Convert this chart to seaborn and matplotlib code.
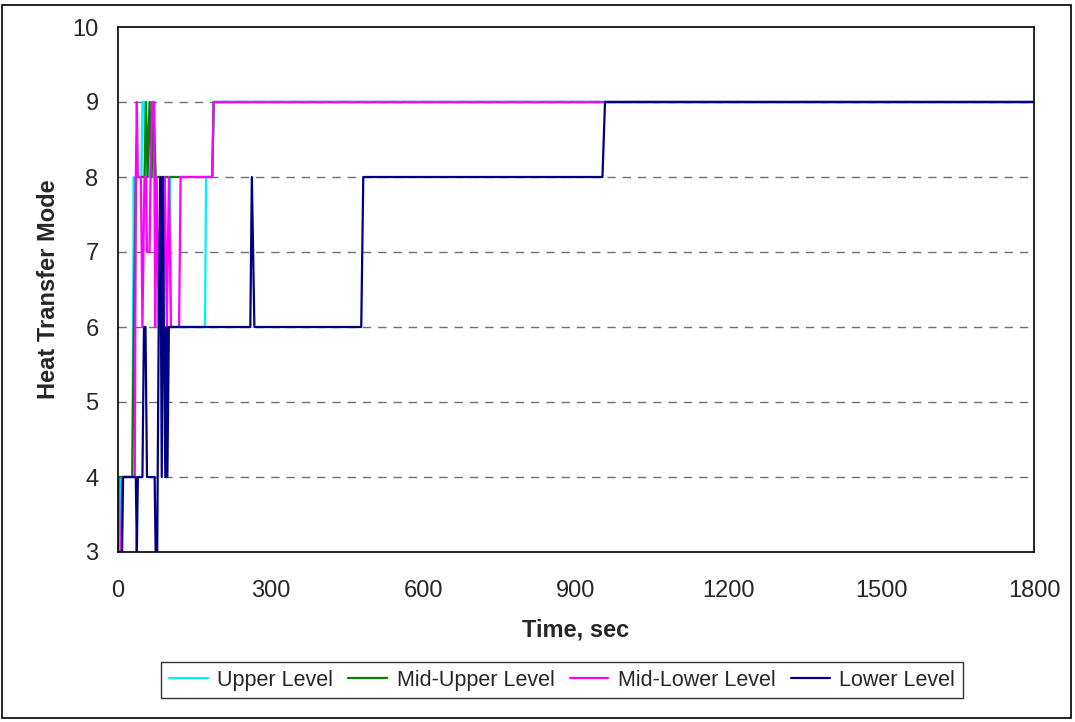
import matplotlib
matplotlib.use("Agg")
import matplotlib.pyplot as plt
import matplotlib.patches as mpatches
import numpy as np
import pandas as pd
import seaborn as sns

# Heat transfer mode history for each level of the bundle
upper_t = [0, 3, 5, 28, 31, 33, 36, 46, 48, 52, 54, 62, 64, 68, 70, 84, 86, 90, 92, 102, 104, 171, 173, 186, 188, 1800]
upper_v = [3, 3, 4, 4, 8, 6, 8, 8, 9, 9, 8, 8, 9, 9, 8, 8, 6, 6, 8, 8, 6, 6, 8, 8, 9, 9]

midupper_t = [0, 1, 28, 31, 35, 52, 55, 58, 62, 66, 70, 74, 80, 185, 188, 1800]
midupper_v = [3, 4, 4, 6, 8, 8, 9, 8, 9, 8, 9, 8, 8, 8, 9, 9]

midlower_t = [0, 6, 8, 33, 35, 37, 39, 45, 48, 52, 55, 57, 62, 64, 67, 71, 73, 76, 80, 84, 88, 92, 96, 100, 104, 120, 123, 185, 188, 1800]
midlower_v = [3, 3, 4, 4, 8, 9, 8, 8, 6, 8, 8, 7, 7, 8, 9, 9, 6, 8, 6, 8, 6, 8, 6, 8, 6, 6, 8, 8, 9, 9]

lower_t = [0, 8, 10, 35, 37, 39, 48, 51, 54, 57, 72, 74, 77, 80, 83, 86, 88, 90, 93, 95, 97, 100, 260, 263, 268, 478, 482, 952, 957, 1800]
lower_v = [3, 3, 4, 4, 3, 4, 4, 6, 6, 4, 4, 3, 3, 6, 8, 4, 8, 6, 4, 6, 4, 6, 6, 8, 6, 6, 8, 8, 9, 9]

series_names = ["Upper Level", "Mid-Upper Level", "Mid-Lower Level", "Lower Level"]
series_colors = ["#00F0FF", "#008000", "#FF00FF", "#000080"]

x_ticks = [0, 300, 600, 900, 1200, 1500, 1800]
y_ticks = [3, 4, 5, 6, 7, 8, 9, 10]

frames = []
for name, t, v in zip(series_names,
                      [upper_t, midupper_t, midlower_t, lower_t],
                      [upper_v, midupper_v, midlower_v, lower_v]):
    frames.append(pd.DataFrame({"Time": t, "Mode": v, "Level": name}))
df = pd.concat(frames, ignore_index=True)

sns.set_theme(style="white")
plt.rcParams["font.family"] = ["Liberation Sans", "DejaVu Sans"]

fig = plt.figure(figsize=(10.75, 7.22), dpi=100)
ax = fig.add_axes([118 / 1075, 1 - 552 / 722, (1034 - 118) / 1075, (552 - 27) / 722])

sns.lineplot(data=df, x="Time", y="Mode", hue="Level", hue_order=series_names,
             palette=dict(zip(series_names, series_colors)), estimator=None,
             sort=False, units="Level", linewidth=1.6, ax=ax, legend=False)

ax.set_xlim(0, 1800)
ax.set_ylim(3, 10)
ax.set_xticks(x_ticks)
ax.set_yticks(y_ticks)
ax.set_xticklabels([str(x) for x in x_ticks], fontsize=17)
ax.set_yticklabels([str(y) for y in y_ticks], fontsize=17)
ax.tick_params(axis="x", direction="out", length=7, width=1, color="black", pad=13)
ax.tick_params(axis="y", direction="inout", length=12, width=1, color="black", pad=8)

for y in y_ticks[1:-1]:
    ax.axhline(y, color="#707070", linestyle=(0, (6, 5)), linewidth=1, zorder=0)

for s in ax.spines.values():
    s.set_visible(True)
    s.set_color("black")
    s.set_linewidth(1.2)

ax.set_xlabel("Time, sec", fontsize=17, fontweight="bold", labelpad=12)
ax.set_ylabel("Heat Transfer Mode", fontsize=17, fontweight="bold", labelpad=9)

handles = [plt.Line2D([], [], color=c, linewidth=1.6) for c in series_colors]
leg = fig.legend(handles, series_names, loc="upper center", bbox_to_anchor=(562 / 1075, 1 - 662 / 722),
                 ncol=4, fontsize=15.5, frameon=True, fancybox=False, handlelength=1.8,
                 columnspacing=0.7, handletextpad=0.45, borderpad=0.35, borderaxespad=0)
leg.get_frame().set_edgecolor("black")
leg.get_frame().set_linewidth(1)

fig.patches.append(mpatches.Rectangle((2 / 1075, 4 / 722), 1069 / 1075, 713 / 722,
                                      transform=fig.transFigure, fill=False,
                                      edgecolor="black", linewidth=1.2))

fig.savefig("out.png", dpi=100)
